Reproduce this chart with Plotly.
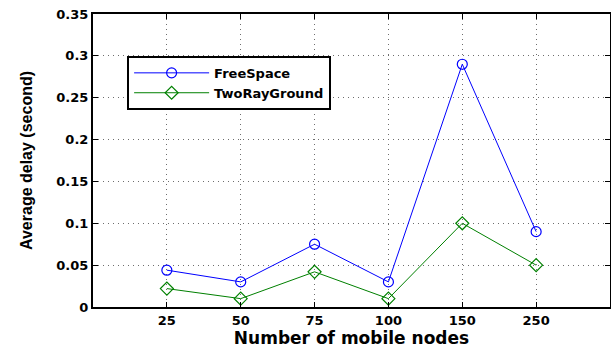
import plotly.graph_objects as go

# Average delay for each network size, two propagation models
nodes = ["25", "50", "75", "100", "150", "250"]
free_space = [0.044, 0.030, 0.075, 0.030, 0.290, 0.090]
two_ray_ground = [0.022, 0.010, 0.042, 0.010, 0.100, 0.050]
y_ticks = [0, 0.05, 0.1, 0.15, 0.2, 0.25, 0.3, 0.35]

tick_font = dict(family="DejaVu Sans", size=13, color="black", weight="bold")

fig = go.Figure()
fig.add_trace(go.Scatter(
    x=nodes, y=free_space, name="FreeSpace", mode="lines+markers",
    line=dict(color="rgb(0,0,255)", width=1),
    marker=dict(symbol="circle-open", size=10, color="rgb(0,0,255)", line=dict(width=1.2)),
))
fig.add_trace(go.Scatter(
    x=nodes, y=two_ray_ground, name="TwoRayGround", mode="lines+markers",
    line=dict(color="rgb(0,128,0)", width=1),
    marker=dict(symbol="diamond-open", size=10, color="rgb(0,128,0)", line=dict(width=1.2)),
))

axis_common = dict(
    showline=True, linecolor="black", linewidth=2, mirror="ticks",
    ticks="inside", ticklen=5, tickcolor="black", tickwidth=1,
    showgrid=True, gridcolor="rgb(110,110,110)", gridwidth=1, griddash="1px,4px",
    zeroline=False, tickfont=tick_font,
)

fig.update_xaxes(
    type="category", categoryorder="array", categoryarray=nodes,
    range=[-1, 6],
    title=dict(text="Number of mobile nodes",
               font=dict(family="DejaVu Sans", size=17, color="black", weight="bold"),
               standoff=2),
    **axis_common,
)
fig.update_yaxes(
    range=[0, 0.35], tickvals=y_ticks,
    title=dict(text="Average delay (second)",
               font=dict(family="Liberation Sans", size=16, color="black", weight="bold"),
               standoff=20),
    **axis_common,
)

fig.update_layout(
    width=611, height=348,
    margin=dict(l=93, r=1, t=14, b=41, autoexpand=False),
    paper_bgcolor="white", plot_bgcolor="white",
    showlegend=True,
    legend=dict(
        x=0.066, y=0.857, xanchor="left", yanchor="top",
        bgcolor="white", bordercolor="black", borderwidth=2,
        font=dict(family="DejaVu Sans", size=13, color="black", weight="bold"),
        itemwidth=75, tracegroupgap=0, entrywidth=150,
    ),
)

fig.write_html("out.html")
